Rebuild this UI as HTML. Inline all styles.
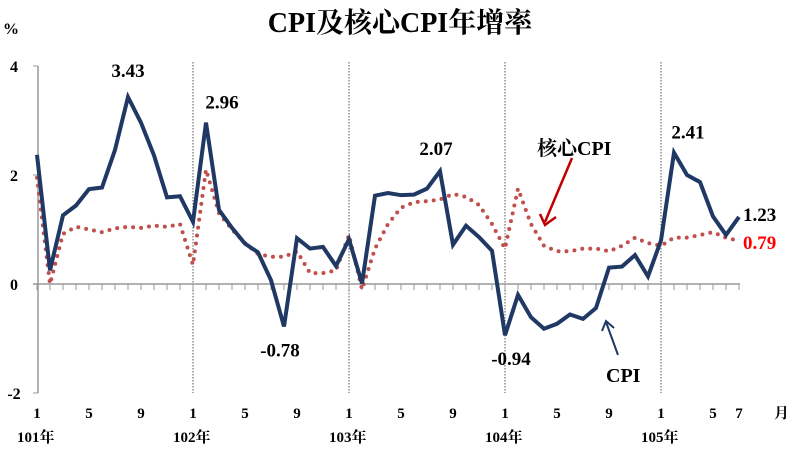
<!DOCTYPE html>
<html><head><meta charset="utf-8"><style>
body{margin:0;background:#fff;}
svg{display:block;font-family:"Liberation Serif","Noto Serif CJK SC",serif;font-weight:bold;}
</style></head><body>
<svg id="chart" width="800" height="450" viewBox="0 0 800 450">
<text x="400" y="32" font-size="28" text-anchor="middle">CPI及核心CPI年增率</text>
<text x="3" y="34" font-size="16">%</text>
<g id="grid"></g><g id="axes"></g><g id="series"></g><g id="labels"></g>
</svg>
<script>
const cpi=[2.37,0.25,1.26,1.44,1.74,1.77,2.46,3.43,2.96,2.36,1.59,1.61,
1.14,2.96,1.36,1.03,0.74,0.58,0.07,-0.78,0.84,0.65,0.68,0.33,
0.82,0.01,1.62,1.67,1.63,1.64,1.75,2.07,0.72,1.07,0.86,0.61,
-0.94,-0.2,-0.61,-0.82,-0.73,-0.56,-0.64,-0.44,0.3,0.32,0.53,0.14,
0.8,2.41,2.0,1.87,1.24,0.9,1.23];
const core=[1.95,0.0,0.92,1.05,1.0,0.95,1.02,1.05,1.03,1.07,1.05,1.1,
0.35,2.1,1.3,1.0,0.75,0.55,0.5,0.5,0.6,0.2,0.2,0.25,
0.9,-0.1,0.65,1.1,1.4,1.5,1.52,1.55,1.65,1.6,1.45,1.1,
0.65,1.75,1.1,0.7,0.6,0.6,0.65,0.65,0.6,0.7,0.85,0.75,
0.7,0.85,0.85,0.9,0.95,0.85,0.79];
const yTicks=[4,2,0,-2];
const years=["101年","102年","103年","104年","105年"];
const monthLabels=[1,5,9];
const cpiPeaks=[[7,"3.43",0,-20],[13,"2.96",16,-14],[19,"-0.78",-4,30],[31,"2.07",-4,-16],[36,"-0.94",6,30],[49,"2.41",14,-14]];
const NS="http://www.w3.org/2000/svg";
const X=i=>37+i*13, Y=v=>284-v*54.5;
function mk(parent,tag,attrs,txt){const e=document.createElementNS(NS,tag);for(const k in attrs)e.setAttribute(k,attrs[k]);if(txt!==undefined)e.textContent=txt;document.getElementById(parent).appendChild(e);return e;}
let e=mk("axes","line",{x1:38,y1:66,x2:38,y2:393,stroke:"#999","stroke-width":1.5});


e=mk("axes","line",{x1:33,y1:Y(0),x2:740,y2:Y(0),stroke:"#999","stroke-width":1.5});


yTicks.forEach(v=>{
 e=mk("axes","line",{x1:33,y1:Y(v),x2:38,y2:Y(v),stroke:"#999"});
 
 
 e=mk("labels","text",{x:14,y:Y(v)+6,"font-size":16,"text-anchor":"middle"},String(v));
 
 
});
for(let i=0;i<cpi.length;i++){
 e=mk("axes","line",{x1:X(i),y1:Y(0),x2:X(i),y2:Y(0)+6,stroke:"#999"});
 
 
}
years.forEach((y,k)=>{
 const x=X(k*12);
 if(k>0){e=mk("grid","line",{x1:x,y1:62,x2:x,y2:393,stroke:"#555","stroke-dasharray":"1.5,1.5"});
 
 }
 e=mk("labels","text",{x:x-20,y:442,"font-size":15},y);
 
 
 monthLabels.forEach(m=>{const idx=k*12+m-1;if(idx<cpi.length){
  e=mk("labels","text",{x:X(idx),y:418,"font-size":15,"text-anchor":"middle"},String(m));
  
  }});
});
e=mk("labels","text",{x:X(cpi.length-1),y:418,"font-size":15,"text-anchor":"middle"},"7");


e=mk("labels","text",{x:774,y:418,"font-size":15},"月");


e=mk("series","polyline",{points:core.map((v,i)=>X(i)+","+Y(v)).join(" "),fill:"none",stroke:"#c0504d","stroke-width":4,"stroke-linecap":"round","stroke-dasharray":"0,8"});


e=mk("series","polyline",{points:cpi.map((v,i)=>X(i)+","+Y(v)).join(" "),fill:"none",stroke:"#1f3864","stroke-width":4,"stroke-linejoin":"miter"});


cpiPeaks.forEach(p=>{
 e=mk("labels","text",{x:X(p[0])+p[2],y:Y(cpi[p[0]])+p[3],"font-size":19,"text-anchor":"middle"},p[1]);
 
 
});
const L=cpi.length-1;
e=mk("labels","text",{x:X(L)+4,y:Y(cpi[L])+4,"font-size":19},cpi[L].toFixed(2));


e=mk("labels","text",{x:X(L)+4,y:Y(core[L])+8,"font-size":19,fill:"#ff0000"},core[L].toFixed(2));


e=mk("labels","text",{x:537,y:155,"font-size":20},"核心CPI");


e=mk("labels","line",{x1:572,y1:158,x2:545,y2:222,stroke:"#c00000","stroke-width":2.5});


e=mk("labels","polyline",{points:"540,214 545,225 556,217",fill:"none",stroke:"#c00000","stroke-width":2.5});


e=mk("labels","text",{x:606,y:382,"font-size":20},"CPI");


e=mk("labels","line",{x1:618,y1:355,x2:606,y2:322,stroke:"#1f3864","stroke-width":2});


e=mk("labels","polyline",{points:"602,331 606,321 614,328",fill:"none",stroke:"#1f3864","stroke-width":2});


</script>
</body></html>
